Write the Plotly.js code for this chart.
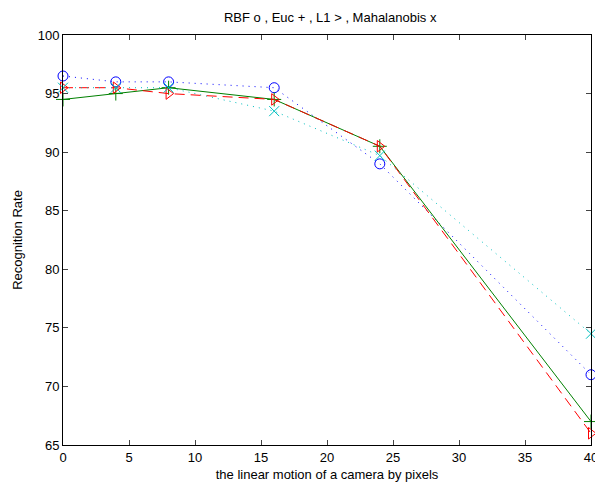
<!DOCTYPE html>
<html><head><meta charset="utf-8">
<script src="https://cdn.plot.ly/plotly-3.0.1.min.js"></script>
<style>body{margin:0;background:#fff}#chart{width:595px;height:490px}</style>
</head><body><div id="chart"></div>
<script>
const xVals = [0, 4, 8, 16, 24, 40];
const rbf = [96.5, 96, 96, 95.5, 89, 71];
const euc = [94.5, 95, 95.5, 94.5, 90.5, 67];
const l1 = [95.5, 95.5, 95, 94.5, 90.5, 66];
const maha = [95.5, 95.5, 95.5, 93.5, 89.7, 74.5];
const xTicks = [0, 5, 10, 15, 20, 25, 30, 35, 40];
const yTicks = [65, 70, 75, 80, 85, 90, 95, 100];

function tr(y, color, dash, symbol, name) {
  return {x: xVals, y: y, mode: 'lines+markers', name: name, cliponaxis: false,
    line: {color: color, width: 1, dash: dash},
    marker: {symbol: symbol, size: 10, color: color, line: {color: color, width: 1}}};
}
const data = [
  tr(rbf, '#0000ff', '1px,5px', 'circle-open', 'RBF'),
  tr(euc, '#008000', 'solid', 'cross-thin-open', 'Euc'),
  tr(l1, '#ff0000', '10px,6px', 'triangle-right-open', 'L1'),
  tr(maha, '#00bfbf', '1px,5px', 'x-thin-open', 'Mahalanobis')
];
const font = {family: 'Liberation Sans, Arial, sans-serif', size: 13, color: '#000'};
const layout = {
  width: 595, height: 490, showlegend: false,
  paper_bgcolor: '#fff', plot_bgcolor: '#fff', font: font,
  margin: {l: 63, r: 4, t: 35, b: 45},
  title: {text: 'RBF o , Euc + , L1 > , Mahalanobis x', font: font, x: 0.555, xanchor: 'center', y: 0.965, yanchor: 'middle'},
  xaxis: {range: [0, 40], tickvals: xTicks, ticks: 'inside', ticklen: 5, mirror: 'allticks',
    ticklabeloverflow: 'allow',
    showline: true, linecolor: '#000', linewidth: 1, showgrid: false, zeroline: false,
    tickfont: font, title: {text: 'the linear motion of a camera by pixels', font: font, standoff: 6}},
  yaxis: {range: [65, 100], tickvals: yTicks, ticks: 'inside', ticklen: 5, mirror: 'allticks',
    showline: true, linecolor: '#000', linewidth: 1, showgrid: false, zeroline: false,
    tickfont: font, title: {text: 'Recognition Rate', font: font, standoff: 12}}
};
Plotly.newPlot('chart', data, layout, {displayModeBar: false, staticPlot: true});
</script></body></html>
